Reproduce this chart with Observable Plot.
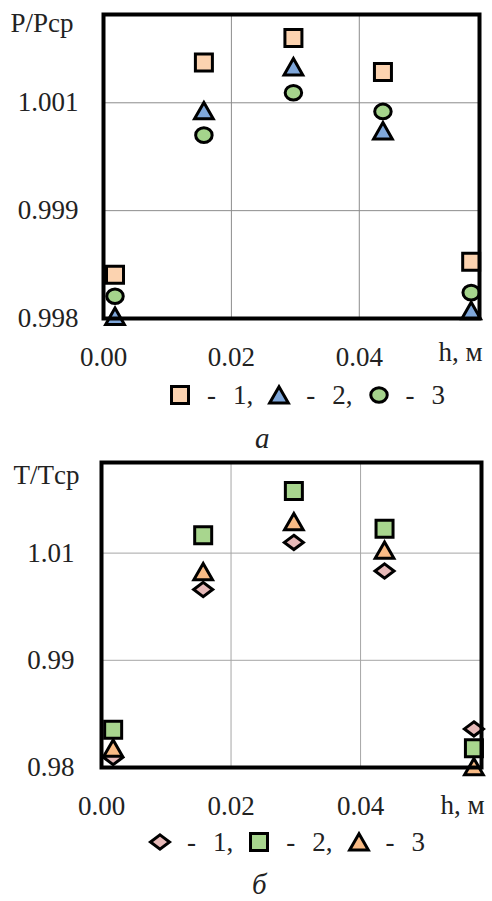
<!DOCTYPE html>
<html><head><meta charset="utf-8">
<script src="https://cdn.jsdelivr.net/npm/d3@7"></script>
<script src="https://cdn.jsdelivr.net/npm/@observablehq/plot@0.6"></script>
<style>
body{margin:0;background:#fff;}
#root{position:relative;width:492px;height:901px;font-family:"Liberation Serif","LiberationSerif","Times New Roman",Times,"DejaVu Serif",serif;color:#222;overflow:hidden;}
.blk{position:absolute;left:0;}
.blk text{font-family:"Liberation Serif","LiberationSerif","Times New Roman",Times,"DejaVu Serif",serif !important;}
.legend{position:absolute;display:flex;align-items:center;height:30px;font-size:27px;line-height:30px;white-space:nowrap;}
.legend svg{display:block;overflow:visible;}
.cap{position:absolute;font-style:italic;font-size:29px;line-height:29px;}
</style>
</head><body>
<div id="root"></div>
<script>
// ---------- data ----------
const h = [0.0018, 0.0157, 0.0297, 0.0437, 0.0575];

// panel а : P/Pср
const pSeries1 = [0.99861, 1.00156, 1.00190, 1.00143, 0.99879]; // squares
const pSeries2 = [0.99803, 1.00089, 1.00150, 1.00061, 0.99811]; // triangles
const pSeries3 = [0.99831, 1.00055, 1.00114, 1.00088, 0.99836]; // circles

// panel б : T/Tср
const tSeries1 = [0.9814, 1.0049, 1.0115, 1.0075, 0.9854]; // diamonds
const tSeries2 = [0.9853, 1.0125, 1.0187, 1.0134, 0.9827]; // squares
const tSeries3 = [0.9827, 1.0074, 1.0144, 1.0104, 0.9801]; // triangles

const xTicks = [0, 0.02, 0.04];
const xTickLabels = ["0.00", "0.02", "0.04"];
const pTicks = [0.998, 0.9995, 1.001];
const pTickLabels = ["0.998", "0.999", "1.001"];
const tTicks = [0.98, 0.995, 1.01];
const tTickLabels = ["0.98", "0.99", "1.01"];
const seriesNames = ["1", "2", "3"];

// ---------- symbols ----------
const kr = s => Math.sqrt(s / Math.PI);
const K = 0.5523;
const symSquare = {draw(c, s){const r = kr(s); c.moveTo(-r,-r); c.lineTo(r,-r); c.lineTo(r,r); c.lineTo(-r,r); c.closePath();}};
const symTriangle = {draw(c, s){const r = kr(s); c.moveTo(0,-0.97*r); c.lineTo(1.1*r,0.95*r); c.lineTo(-1.1*r,0.95*r); c.closePath();}};
const symEllipse = {draw(c, s){const r = kr(s), rx = 0.97*r, ry = 0.86*r;
  c.moveTo(rx,0); c.bezierCurveTo(rx,ry*K,rx*K,ry,0,ry); c.bezierCurveTo(-rx*K,ry,-rx,ry*K,-rx,0);
  c.bezierCurveTo(-rx,-ry*K,-rx*K,-ry,0,-ry); c.bezierCurveTo(rx*K,-ry,rx,-ry*K,rx,0); c.closePath();}};
const symDiamond = {draw(c, s){const r = kr(s); c.moveTo(0,-0.84*r); c.lineTo(1.12*r,0); c.lineTo(0,0.84*r); c.lineTo(-1.12*r,0); c.closePath();}};

const R = 8.5, SW = 3;
const colPeach = "#fcd3b0", colBlue = "#7fa7da", colGreen = "#a5d48c";
const colPink = "#e6b9b8", colGreen2 = "#a8d68e", colOrange = "#f9bb85";

const panelA = [
  {vals: pSeries1, sym: symSquare, fill: colPeach},
  {vals: pSeries2, sym: symTriangle, fill: colBlue},
  {vals: pSeries3, sym: symEllipse, fill: colGreen}
];
const panelB = [
  {vals: tSeries1, sym: symDiamond, fill: colPink},
  {vals: tSeries2, sym: symSquare, fill: colGreen2},
  {vals: tSeries3, sym: symTriangle, fill: colOrange}
];

const FONT = '"Liberation Serif","LiberationSerif","Times New Roman",Times,"DejaVu Serif",serif';

function rows(vals){ return h.map((x, i) => ({h: x, v: vals[i]})); }

function panel(cfg){
  const xl = new Map(xTicks.map((d,i)=>[d, xTickLabels[i]]));
  const yl = new Map(cfg.yTicks.map((d,i)=>[d, cfg.yLabels[i]]));
  return Plot.plot({
    width: 492, height: cfg.height,
    marginTop: cfg.mt, marginBottom: cfg.mb, marginLeft: cfg.ml, marginRight: cfg.mr,
    x: {domain: cfg.xDomain, label: null},
    y: {domain: cfg.yDomain, label: null},
    style: {fontFamily: FONT, fontSize: "27px", color: "#222", background: "white", overflow: "visible"},
    marks: [
      Plot.gridX(xTicks.slice(1), {stroke: cfg.grid, strokeOpacity: 1, strokeWidth: 1}),
      Plot.gridY(cfg.yTicks.slice(1), {stroke: cfg.grid, strokeOpacity: 1, strokeWidth: 1}),
      Plot.axisX(xTicks, {tickSize: 0, tickPadding: 28, tickFormat: d => xl.get(d), label: null, fontSize: 27, fontFamily: FONT}),
      Plot.axisY(cfg.yTicks, {tickSize: 0, tickPadding: cfg.yPad, tickFormat: d => yl.get(d), label: null, fontSize: 27, fontFamily: FONT}),
      ...cfg.series.map(s => Plot.dot(rows(s.vals), {x: "h", y: "v", r: R, symbol: s.sym, fill: s.fill, stroke: "black", strokeWidth: SW, strokeLinejoin: "miter"})),
      Plot.frame({stroke: "black", strokeWidth: 4}),
      Plot.text([cfg.yTitle], {frameAnchor: "top-left", dx: cfg.titleDx, dy: cfg.titleDy, textAnchor: "start", lineAnchor: "middle", fontSize: 27, fontFamily: FONT}),
      Plot.text(["h, м"], {frameAnchor: "bottom-right", dx: 3, dy: cfg.hDy, textAnchor: "end", lineAnchor: "bottom", fontSize: 27, fontFamily: FONT})
    ]
  });
}

function legend(series, left, centerY){
  const div = document.createElement("div");
  div.className = "legend";
  div.style.left = left + "px";
  div.style.top = (centerY - 15) + "px";
  series.forEach((s, i) => {
    const svg = d3.create("svg").attr("width", 22).attr("height", 22);
    svg.append("path").attr("transform", "translate(11,11)")
      .attr("d", d3.symbol(s.sym, Math.PI * R * R)())
      .attr("fill", s.fill).attr("stroke", "black").attr("stroke-width", SW).attr("stroke-linejoin", "miter");
    const sn = svg.node();
    if (i > 0) sn.style.marginLeft = "15px";
    div.appendChild(sn);
    const dash = document.createElement("span"); dash.textContent = "-"; dash.style.marginLeft = "16px";
    div.appendChild(dash);
    const lab = document.createElement("span"); lab.textContent = seriesNames[i] + (i < series.length - 1 ? "," : ""); lab.style.marginLeft = "17px";
    div.appendChild(lab);
  });
  return div;
}

const root = document.getElementById("root");

const a = panel({height: 372, mt: 14, mb: 54, ml: 103, mr: 13, xDomain: [0, 0.0588], yDomain: [0.998, 1.002228],
  yTicks: pTicks, yLabels: pTickLabels, yPad: 25, grid: "#8c8c8c", series: panelA,
  yTitle: "P/Pср", titleDx: -93, titleDy: 9, hDy: 42});
a.classList.add("blk"); a.style.top = "0px";
root.appendChild(a);
root.appendChild(legend(panelA, 169, 395));
const ca = document.createElement("div"); ca.className = "cap"; ca.textContent = "а"; ca.style.left = "255px"; ca.style.top = "424px";
root.appendChild(ca);

const b = panel({height: 372, mt: 10, mb: 57, ml: 101, mr: 11, xDomain: [0, 0.05867], yDomain: [0.98, 1.02268],
  yTicks: tTicks, yLabels: tTickLabels, yPad: 27, grid: "#a6a6a6", series: panelB,
  yTitle: "T/Tср", titleDx: -88, titleDy: 13, hDy: 46});
b.classList.add("blk"); b.style.top = "452px";
root.appendChild(b);
root.appendChild(legend(panelB, 149, 842));
const cb = document.createElement("div"); cb.className = "cap"; cb.textContent = "б"; cb.style.left = "252px"; cb.style.top = "870px";
root.appendChild(cb);
</script>
</body></html>
